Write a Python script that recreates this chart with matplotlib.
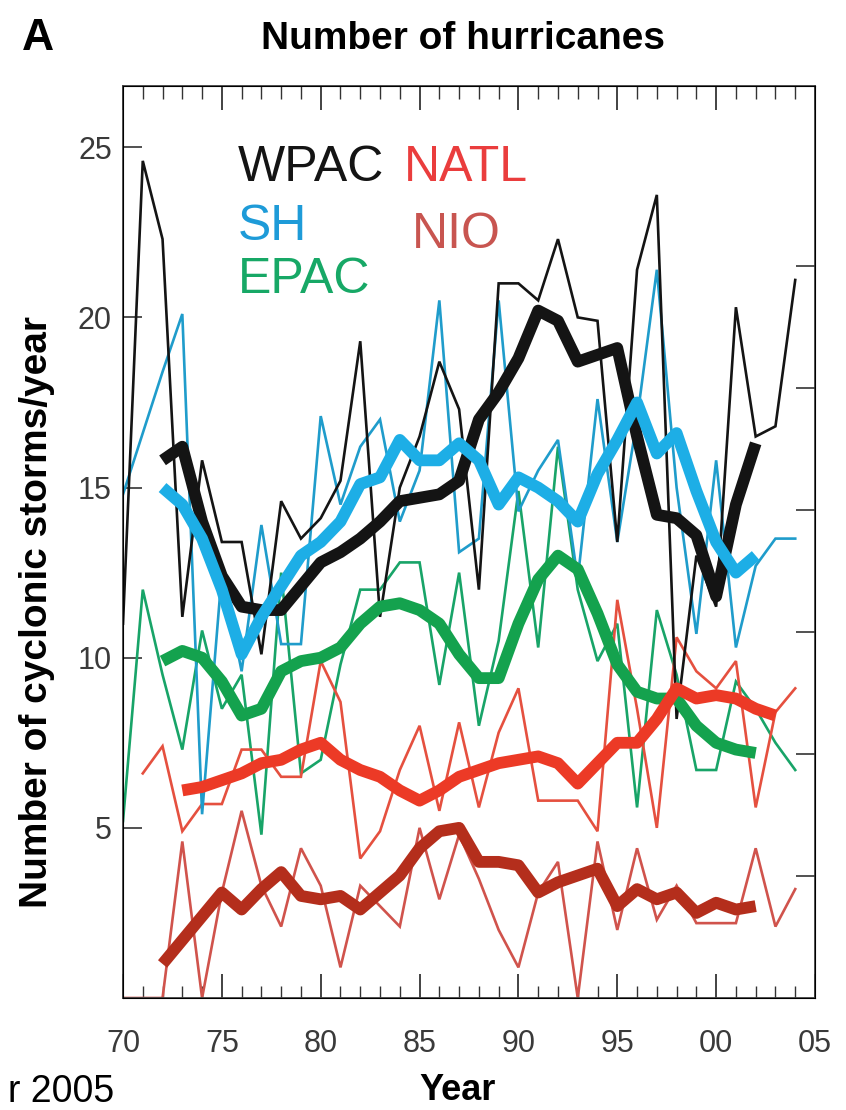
import numpy as np
import matplotlib
matplotlib.use("Agg")
import matplotlib.pyplot as plt
from matplotlib.ticker import MultipleLocator

plt.rcParams['font.family'] = ['Liberation Sans', 'DejaVu Sans']

# annual counts (thin lines)
years = np.arange(1970, 2005)
wpac = [11.0, 24.6, 22.3, 11.2, 15.8, 13.4, 13.4, 10.1, 14.6, 13.5,
        14.1, 15.2, 19.3, 11.2, 15.0, 16.5, 18.7, 17.3, 12.0, 21.0,
        21.0, 20.5, 22.3, 20.0, 19.9, 13.4, 21.4, 23.6, 8.2, 13.0,
        11.5, 20.3, 16.5, 16.8, 21.1]
sh = [14.8, 16.6, 18.4, 20.1, 5.4, 12.5, 9.6, 13.9, 10.4, 10.4,
      17.1, 14.5, 16.2, 17.0, 14.0, 15.5, 20.5, 13.1, 13.5, 20.5,
      14.3, 15.5, 16.4, 12.3, 17.6, 13.4, 17.0, 21.4, 15.0, 10.7,
      15.8, 10.3, 12.7, 13.5, 13.5]
epac = [5.2, 12.0, 9.5, 7.3, 10.8, 8.5, 9.5, 4.8, 12.5, 6.6,
        7.0, 9.8, 12.0, 12.0, 12.8, 12.8, 9.2, 12.5, 8.0, 10.5,
        14.9, 10.3, 16.2, 12.0, 9.9, 11.0, 5.6, 11.4, 9.5, 6.7,
        6.7, 9.3, 8.5, 7.5, 6.7]
natl_years = np.arange(1971, 2005)
natl = [6.6, 7.4, 4.9, 5.7, 5.7, 7.3, 7.3, 6.5, 6.5, 9.9,
        8.7, 4.1, 4.9, 6.7, 8.0, 5.5, 8.1, 5.6, 7.8, 9.1,
        5.8, 5.8, 5.8, 4.9, 11.7, 8.5, 5.0, 10.6, 9.6, 9.1,
        9.9, 5.6, 8.4, 9.1]
nio = [0.0, 0.0, 0.0, 4.6, 0.0, 3.1, 5.5, 3.3, 2.1, 4.4,
       3.3, 0.9, 3.3, 2.7, 2.1, 5.0, 2.9, 4.8, 3.5, 2.0,
       0.9, 3.1, 4.0, 0.0, 4.6, 2.0, 4.4, 2.3, 3.3, 2.2,
       2.2, 2.2, 4.4, 2.1, 3.2]

# smoothed series (thick lines)
smooth_years = np.arange(1972, 2003)
wpac_s = [15.8, 16.2, 14.0, 12.4, 11.5, 11.4, 11.4, 12.1, 12.8, 13.1,
          13.5, 14.0, 14.6, 14.7, 14.8, 15.2, 17.0, 17.8, 18.8, 20.2,
          19.9, 18.7, 18.9, 19.1, 16.5, 14.2, 14.1, 13.6, 11.8, 14.5,
          16.3]
sh_s = [15.0, 14.5, 13.5, 12.0, 10.1, 11.2, 12.1, 13.0, 13.4, 14.0,
        15.1, 15.3, 16.4, 15.8, 15.8, 16.3, 15.8, 14.5, 15.3, 15.0,
        14.6, 14.0, 15.4, 16.4, 17.5, 16.0, 16.6, 14.9, 13.4, 12.5,
        13.0]
epac_s = [9.9, 10.2, 10.0, 9.3, 8.3, 8.5, 9.6, 9.9, 10.0, 10.3,
          11.0, 11.5, 11.6, 11.4, 11.0, 10.1, 9.4, 9.4, 11.0, 12.3,
          13.0, 12.6, 11.3, 9.8, 9.0, 8.8, 8.8, 8.0, 7.5, 7.3,
          7.2]
nio_s = [1.0, 1.7, 2.4, 3.1, 2.6, 3.2, 3.7, 3.0, 2.9, 3.0,
         2.6, 3.1, 3.6, 4.4, 4.9, 5.0, 4.0, 4.0, 3.9, 3.1,
         3.4, 3.6, 3.8, 2.7, 3.2, 2.9, 3.1, 2.5, 2.8, 2.6,
         2.7]
natl_s_years = np.arange(1973, 2004)
natl_s = [6.1, 6.2, 6.4, 6.6, 6.9, 7.0, 7.3, 7.5, 7.0, 6.7,
          6.5, 6.1, 5.8, 6.1, 6.5, 6.7, 6.9, 7.0, 7.1, 6.9,
          6.3, 6.9, 7.5, 7.5, 8.2, 9.1, 8.8, 8.9, 8.8, 8.5,
          8.3]

black = '#141414'
blue_thin, blue_thick = '#1f9ccb', '#1daee6'
green_thin, green_thick = '#18a468', '#14a24e'
red_thin, red_thick = '#e5503f', '#ec3a26'
nio_thin, nio_thick = '#d0534c', '#b42e1c'

fig = plt.figure(figsize=(8.46, 11.10), dpi=100)
ax = fig.add_axes([123 / 846, 1 - 998 / 1110, (815 - 123) / 846, (998 - 86) / 1110])

thin = dict(lw=1.9, solid_joinstyle='miter')
ax.plot(years, epac, color=green_thin, **thin)
ax.plot(natl_years, natl, color=red_thin, **thin)
ax.plot(years, nio, color=nio_thin, **thin)
ax.plot(years, sh, color=blue_thin, **thin)
ax.plot(years, wpac, color=black, **thin)

thick = dict(lw=8.5, solid_joinstyle='round', solid_capstyle='butt')
ax.plot(smooth_years, epac_s, color=green_thick, **thick)
ax.plot(smooth_years, nio_s, color=nio_thick, **thick)
ax.plot(natl_s_years, natl_s, color=red_thick, **thick)
ax.plot(smooth_years, wpac_s, color=black, **thick)
ax.plot(smooth_years, sh_s, color=blue_thick, **thick)

ax.set_xlim(1970, 2005)
ax.set_ylim(0, 26.8)
ax.set_xticks(np.arange(1970, 2006, 5))
ax.set_xticklabels(['70', '75', '80', '85', '90', '95', '00', '05'])
ax.xaxis.set_minor_locator(MultipleLocator(1))
ax.set_yticks([5, 10, 15, 20, 25])
ax.tick_params(axis='x', which='major', direction='in', length=17, width=1.2,
               top=True, labelsize=22, labelcolor='#3a3a3a', pad=22, color='#222')
ax.tick_params(axis='x', which='minor', direction='in', length=9, width=1.0,
               top=True, color='#333')
ax.tick_params(axis='y', which='major', direction='in', length=14, width=1.2,
               labelsize=22, labelcolor='#3a3a3a', pad=8, color='#333')
for s in ax.spines.values():
    s.set_color('#444')
    s.set_linewidth(1.3)

# unlabelled ticks on the right-hand frame
ax2 = ax.twinx()
ax2.set_ylim(0, 26.8 / 3.585)
ax2.set_yticks([1, 2, 3, 4, 5, 6])
ax2.tick_params(axis='y', direction='in', length=14, width=1.2, color='#333',
                labelright=False)

ax.set_xlabel('Year', fontsize=26, fontweight='bold')
ax.xaxis.set_label_coords(0.483, -0.082)
ax.set_ylabel('Number of cyclonic storms/year', fontsize=28, fontweight='bold')
ax.yaxis.set_label_coords(-0.098, 0.423)

fig.text(463 / 846, 1 - 49 / 1110, 'Number of hurricanes', ha='center',
         va='baseline', fontsize=28, fontweight='bold')
fig.text(22 / 846, 1 - 50 / 1110, 'A', ha='left', va='baseline',
         fontsize=32, fontweight='bold')
fig.text(8 / 846, 1 - 1102 / 1110, 'r 2005', ha='left', va='baseline', fontsize=27)

leg = dict(fontsize=36, va='baseline', ha='left', transform=fig.transFigure)
fig.text(238 / 846, 1 - 181 / 1110, 'WPAC', color=black, **leg)
fig.text(238 / 846, 1 - 240 / 1110, 'SH', color='#1e9bd8', **leg)
fig.text(238 / 846, 1 - 293 / 1110, 'EPAC', color='#17a866', **leg)
fig.text(404 / 846, 1 - 181 / 1110, 'NATL', color='#ea3d3d', **leg)
fig.text(412 / 846, 1 - 248 / 1110, 'NIO', color='#c85550', **leg)

fig.savefig('out.png', dpi=100)
